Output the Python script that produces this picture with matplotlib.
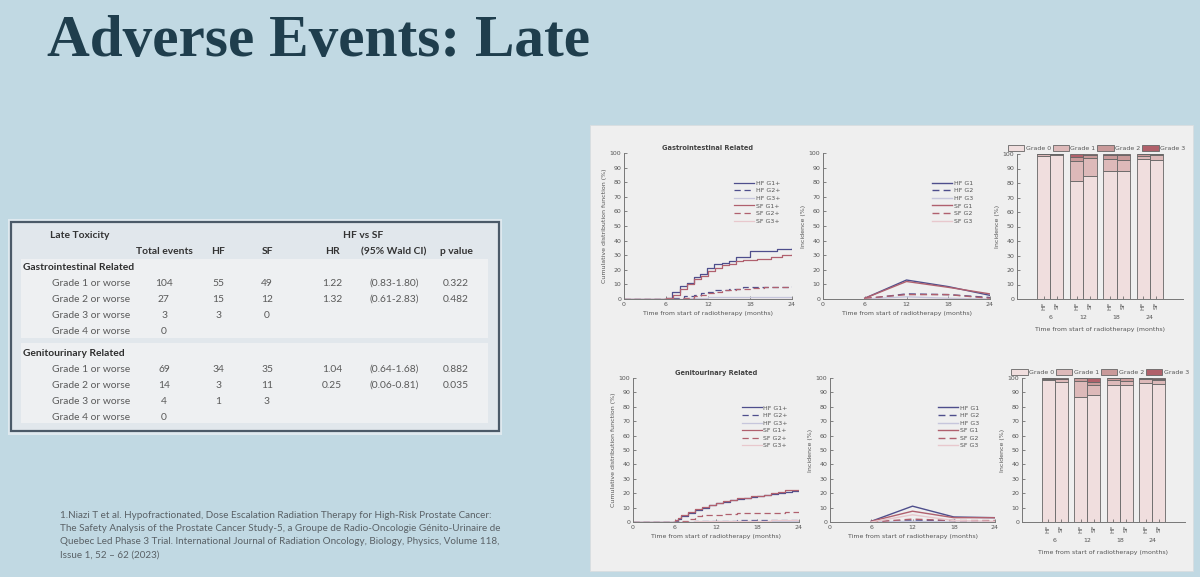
import matplotlib.pyplot as plt
from matplotlib.patches import Rectangle

W, H = 1200, 577

# ---------------- table values
grade_rows = ["Grade 1 or worse", "Grade 2 or worse", "Grade 3 or worse", "Grade 4 or worse"]
gi_total = ["104", "27", "3", "0"]
gi_hf = ["55", "15", "3", ""]
gi_sf = ["49", "12", "0", ""]
gi_hr = ["1.22", "1.32", "", ""]
gi_ci = ["(0.83-1.80)", "(0.61-2.83)", "", ""]
gi_p = ["0.322", "0.482", "", ""]
gu_total = ["69", "14", "4", "0"]
gu_hf = ["34", "3", "1", ""]
gu_sf = ["35", "11", "3", ""]
gu_hr = ["1.04", "0.25", "", ""]
gu_ci = ["(0.64-1.68)", "(0.06-0.81)", "", ""]
gu_p = ["0.882", "0.035", "", ""]

# ---------------- cumulative distribution (step) curves, months / %
gi_hf_g1_t = [0, 6, 6.9, 8, 9, 10, 10.9, 11.8, 12.9, 14, 15, 16, 18, 21.9, 24]
gi_hf_g1 = [0, 1, 5, 9, 11, 15, 17, 21, 24, 25, 26, 29, 33, 34, 35]
gi_sf_g1_t = [0, 6, 7, 8, 9, 10, 11, 12, 13, 14, 15, 16, 17, 19, 21, 22.5, 24]
gi_sf_g1 = [0, 1, 3, 7, 10, 14, 16, 19, 21, 23, 24, 26, 27, 27.5, 28.5, 30, 31]
gi_hf_g2_t = [0, 7, 8.5, 10, 11, 12, 13, 15, 17, 22, 24]
gi_hf_g2 = [0, 1, 2, 3, 4, 5, 6.5, 7, 8, 8.5, 9]
gi_sf_g2_t = [0, 8, 10, 11, 12, 13, 14, 16, 18, 20, 24]
gi_sf_g2 = [0, 1, 2, 3, 4, 5, 6, 7, 7.5, 8, 8.5]
gi_hf_g3_t = [0, 9, 12, 24]
gi_hf_g3 = [0, 1, 1.5, 1.5]
gi_sf_g3_t = [0, 24]
gi_sf_g3 = [0, 0]

gu_hf_g1_t = [0, 6, 6.5, 7, 8, 9, 10, 11, 12, 13, 14, 15, 16, 17, 18, 19, 20, 21, 22, 23, 24]
gu_hf_g1 = [0, 1, 2, 4, 6, 8, 10, 12, 13, 14, 15.5, 16, 17, 17.5, 18, 18.5, 19.5, 20, 21, 21.5, 22]
gu_sf_g1_t = [0, 6, 6.5, 7, 8, 9, 10, 11, 12, 13, 14, 15, 16, 17, 18, 19, 20, 21, 22, 24]
gu_sf_g1 = [0, 1.5, 3, 5, 7, 9, 10.5, 12, 13, 14.5, 15, 16.5, 17, 18, 18, 19, 20, 21, 22, 22]
gu_hf_g2_t = [0, 9, 12, 15, 24]
gu_hf_g2 = [0, 0.5, 1, 1.5, 1.5]
gu_sf_g2_t = [0, 7, 8, 9, 10, 13, 15, 21, 22, 24]
gu_sf_g2 = [0, 1, 2, 4, 5, 5.5, 6, 6.5, 7, 7]
gu_hf_g3_t = [0, 10, 24]
gu_hf_g3 = [0, 0.5, 0.5]
gu_sf_g3_t = [0, 9, 12, 20, 24]
gu_sf_g3 = [0, 0.5, 1, 1.5, 1.5]

# ---------------- incidence by time point
inc_months = [6, 12, 18, 24]
gi_inc_hf_g1 = [0.5, 13, 8.5, 2.5]
gi_inc_hf_g2 = [0, 3.5, 3, 1]
gi_inc_hf_g3 = [0, 1.5, 0.5, 0]
gi_inc_sf_g1 = [0.5, 12, 8, 3.5]
gi_inc_sf_g2 = [0.5, 3, 3, 0.5]
gi_inc_sf_g3 = [0, 0, 0, 0]
gu_inc_hf_g1 = [0.5, 11, 3.5, 3]
gu_inc_hf_g2 = [0, 1, 1, 0.5]
gu_inc_hf_g3 = [0, 0.5, 0, 0]
gu_inc_sf_g1 = [0.5, 7.5, 3, 3]
gu_inc_sf_g2 = [0, 2, 1, 1]
gu_inc_sf_g3 = [0, 5, 1, 0.5]

# ---------------- stacked bars: HF6, SF6, HF12, SF12, HF18, SF18, HF24, SF24
bar_arms = ["HF", "SF", "HF", "SF", "HF", "SF", "HF", "SF"]
bar_pos = [2, 3, 4.5, 5.5, 7, 8, 9.5, 10.5]
group_labels = ["6", "12", "18", "24"]
grade_names = ["Grade 0", "Grade 1", "Grade 2", "Grade 3"]
gi_bar_g0 = [98.5, 99, 81.5, 85, 88, 88.5, 96.5, 96]
gi_bar_g1 = [1.5, 0.8, 13.5, 12, 8.5, 7.5, 2, 3.5]
gi_bar_g2 = [0, 0.2, 3, 2.5, 2.5, 3.5, 1.5, 0.5]
gi_bar_g3 = [0, 0, 2, 0.5, 1, 0.5, 0, 0]
gu_bar_g0 = [98.5, 97.5, 87, 88, 95, 95, 96.5, 96]
gu_bar_g1 = [1, 1.5, 11, 7, 3.5, 3, 2.5, 2.5]
gu_bar_g2 = [0.5, 0.5, 2, 2.5, 1.5, 2, 1, 1]
gu_bar_g3 = [0, 0.5, 0, 2.5, 0, 0, 0, 0.5]

BG = "#c1d9e3"
PANEL = "#efefef"
TXT = "#555555"
HF_C, SF_C = "#4e4e8c", "#b0606e"
HF_L, SF_L = "#c6c6dc", "#e8c8cd"
GRADE_C = ["#f0dede", "#ddb9b9", "#c99a9a", "#b0606a"]
FS = 4.5

fig = plt.figure(figsize=(12, 5.77), dpi=100, facecolor=BG)

bg = fig.add_axes([0, 0, 1, 1], zorder=-5)
bg.set_xlim(0, W)
bg.set_ylim(H, 0)
bg.set_axis_off()


def px(x0, y0, x1, y1):
    return [x0 / W, 1 - y1 / H, (x1 - x0) / W, (y1 - y0) / H]


# title
bg.text(47, 56, "Adverse Events: Late", family="Liberation Serif", weight="bold",
        fontsize=42.7, color="#1f3e4d", va="baseline", ha="left")

# ---------------- table
bg.add_patch(Rectangle((8, 219), 494, 216, facecolor="#dfe9ef", edgecolor="none"))
bg.add_patch(Rectangle((11, 222), 488, 209, facecolor="#e1e7ec", edgecolor="#4b5a68", lw=1.6))
bg.add_patch(Rectangle((21, 259), 467, 79, facecolor="#eef0f2", edgecolor="none"))
bg.add_patch(Rectangle((21, 343), 467, 80, facecolor="#eef0f2", edgecolor="none"))

tf = dict(family="Lato", fontsize=7.4, va="center")
col_x = [164, 218, 267, 332, 394, 456]
bg.text(80, 236, "Late Toxicity", ha="center", weight="bold", color="#333333", **tf)
bg.text(363, 236, "HF vs SF", ha="center", weight="bold", color="#333333", **tf)
for x, h in zip(col_x, ["Total events", "HF", "SF", "HR", "(95% Wald CI)", "p value"]):
    bg.text(x, 252, h, ha="center", weight="bold", color="#333333", **tf)

sections = [("Gastrointestinal Related", 267, [gi_total, gi_hf, gi_sf, gi_hr, gi_ci, gi_p]),
            ("Genitourinary Related", 353, [gu_total, gu_hf, gu_sf, gu_hr, gu_ci, gu_p])]
for name, y0, cols in sections:
    bg.text(23, y0, name, ha="left", weight="bold", color="#2e2e2e", **tf)
    for i, g in enumerate(grade_rows):
        y = y0 + 16 * (i + 1)
        bg.text(52, y, g, ha="left", color="#5a5a5a", **tf)
        for x, col in zip(col_x, cols):
            bg.text(x, y, col[i], ha="center", color="#5a5a5a", **tf)

# reference
ref_lines = [
    "1.Niazi T et al. Hypofractionated, Dose Escalation Radiation Therapy for High-Risk Prostate Cancer:",
    "The Safety Analysis of the Prostate Cancer Study-5, a Groupe de Radio-Oncologie Génito-Urinaire de",
    "Quebec Led Phase 3 Trial. International Journal of Radiation Oncology, Biology, Physics, Volume 118,",
    "Issue 1, 52 \u2013 62 (2023)",
]
for i, line in enumerate(ref_lines):
    bg.text(60, 515 + 13.5 * i, line, family="Lato", fontsize=7.1, color="#5a6166",
            ha="left", va="center")

# ---------------- figure panel
bg.add_patch(Rectangle((590, 125), 603, 446, facecolor=PANEL, edgecolor="#d8dde0", lw=0.6))


def style(ax, xlabel, ylabel):
    ax.set_facecolor("none")
    for s in ["top", "right"]:
        ax.spines[s].set_visible(False)
    for s in ["left", "bottom"]:
        ax.spines[s].set_color("#777777")
        ax.spines[s].set_linewidth(0.7)
    ax.set_ylim(0, 100)
    ax.set_yticks(range(0, 101, 10))
    ax.tick_params(labelsize=FS, colors=TXT, length=2, width=0.5, direction="in", pad=2)
    ax.set_xlabel(xlabel, fontsize=FS, color=TXT, labelpad=3)
    ax.set_ylabel(ylabel, fontsize=FS, color=TXT, labelpad=2)


def cif_axes(rect, title, curves):
    ax = fig.add_axes(px(*rect))
    hf1, hf2, hf3, sf1, sf2, sf3 = curves
    ax.step(*hf1, where="post", color=HF_C, lw=0.9, label="HF G1+")
    ax.step(*hf2, where="post", color=HF_C, lw=0.9, ls=(0, (5, 3)), label="HF G2+")
    ax.step(*hf3, where="post", color=HF_L, lw=0.9, label="HF G3+")
    ax.step(*sf1, where="post", color=SF_C, lw=0.9, label="SF G1+")
    ax.step(*sf2, where="post", color=SF_C, lw=0.9, ls=(0, (5, 3)), label="SF G2+")
    ax.step(*sf3, where="post", color=SF_L, lw=0.9, label="SF G3+")
    ax.set_xlim(0, 24)
    ax.set_xticks([0, 6, 12, 18, 24])
    style(ax, "Time from start of radiotherapy (months)", "Cumulative distribution function (%)")
    ax.set_title(title, fontsize=4.8, weight="bold", color="#444444", pad=2)
    ax.legend(loc="upper left", bbox_to_anchor=(0.62, 0.85), frameon=False, fontsize=FS,
              handlelength=3.2, handletextpad=0.3, labelspacing=0.35, labelcolor=TXT)
    return ax


def inc_axes(rect, series):
    ax = fig.add_axes(px(*rect))
    hf1, hf2, hf3, sf1, sf2, sf3 = series
    ax.plot(inc_months, hf1, color=HF_C, lw=1.0, label="HF G1")
    ax.plot(inc_months, hf2, color=HF_C, lw=1.0, ls=(0, (5, 3)), label="HF G2")
    ax.plot(inc_months, hf3, color=HF_L, lw=1.0, label="HF G3")
    ax.plot(inc_months, sf1, color=SF_C, lw=1.0, label="SF G1")
    ax.plot(inc_months, sf2, color=SF_C, lw=1.0, ls=(0, (5, 3)), label="SF G2")
    ax.plot(inc_months, sf3, color=SF_L, lw=1.0, label="SF G3")
    ax.set_xlim(0, 24)
    ax.set_xticks([0, 6, 12, 18, 24])
    style(ax, "Time from start of radiotherapy (months)", "Incidence (%)")
    ax.legend(loc="upper left", bbox_to_anchor=(0.62, 0.85), frameon=False, fontsize=FS,
              handlelength=3.2, handletextpad=0.3, labelspacing=0.35, labelcolor=TXT)
    return ax


def bar_axes(rect, grades):
    ax = fig.add_axes(px(*rect))
    bottom = [0] * len(bar_pos)
    for name, vals, c in zip(grade_names, grades, GRADE_C):
        ax.bar(bar_pos, vals, width=1.0, bottom=bottom, color=c, edgecolor="#666666",
               lw=0.6, label=name)
        bottom = [b + v for b, v in zip(bottom, vals)]
    ax.set_xlim(0, 12.5)
    ax.set_xticks(bar_pos, bar_arms, rotation=90)
    style(ax, "Time from start of radiotherapy (months)", "Incidence (%)")
    ax.xaxis.labelpad = 12
    for k, g in enumerate(group_labels):
        ax.text((bar_pos[2 * k] + bar_pos[2 * k + 1]) / 2, -0.13, g, ha="center", va="center",
                fontsize=FS, color=TXT, transform=ax.get_xaxis_transform())
    ax.legend(loc="lower center", bbox_to_anchor=(0.48, 0.99), ncol=4, frameon=False,
              fontsize=FS, handlelength=2.6, handleheight=1.2, handletextpad=0.25,
              columnspacing=0.3, labelcolor=TXT, borderpad=0.2)
    return ax


cif_axes((624, 153, 792, 299), "Gastrointestinal Related",
         [(gi_hf_g1_t, gi_hf_g1), (gi_hf_g2_t, gi_hf_g2), (gi_hf_g3_t, gi_hf_g3),
          (gi_sf_g1_t, gi_sf_g1), (gi_sf_g2_t, gi_sf_g2), (gi_sf_g3_t, gi_sf_g3)])
inc_axes((823, 153, 990, 299),
         [gi_inc_hf_g1, gi_inc_hf_g2, gi_inc_hf_g3, gi_inc_sf_g1, gi_inc_sf_g2, gi_inc_sf_g3])
bar_axes((1017, 154, 1183, 299), [gi_bar_g0, gi_bar_g1, gi_bar_g2, gi_bar_g3])

cif_axes((633, 378, 799, 522), "Genitourinary Related",
         [(gu_hf_g1_t, gu_hf_g1), (gu_hf_g2_t, gu_hf_g2), (gu_hf_g3_t, gu_hf_g3),
          (gu_sf_g1_t, gu_sf_g1), (gu_sf_g2_t, gu_sf_g2), (gu_sf_g3_t, gu_sf_g3)])
inc_axes((830, 378, 995, 522),
         [gu_inc_hf_g1, gu_inc_hf_g2, gu_inc_hf_g3, gu_inc_sf_g1, gu_inc_sf_g2, gu_inc_sf_g3])
bar_axes((1022, 378, 1185, 522), [gu_bar_g0, gu_bar_g1, gu_bar_g2, gu_bar_g3])

fig.savefig("out.png", dpi=100, facecolor=BG)
